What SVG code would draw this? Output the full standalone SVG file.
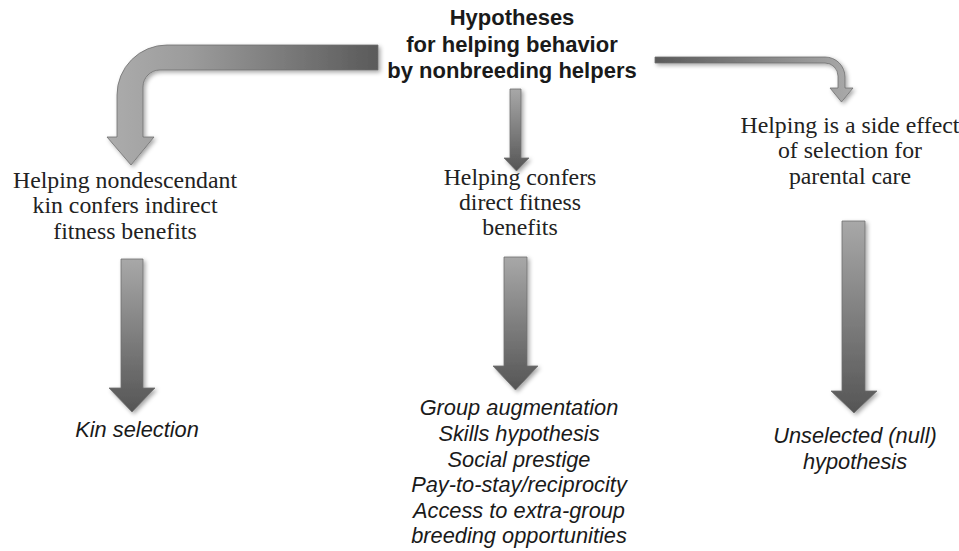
<svg xmlns="http://www.w3.org/2000/svg" width="959" height="551" viewBox="0 0 959 551">
<style>
.title{font-family:"Liberation Sans",Arial,sans-serif;font-weight:bold;font-size:22px;fill:#1a1a1a;text-anchor:middle}
.hyp{font-family:"Liberation Serif","Times New Roman",serif;font-size:23.8px;fill:#222;text-anchor:middle}
.res{font-family:"Liberation Sans",Arial,sans-serif;font-style:italic;font-size:21.8px;fill:#1a1a1a;text-anchor:middle}
.arrow{stroke:#6e6e6e;stroke-width:0.8;filter:url(#sh)}
</style>
<defs>
<filter id="sh" x="-30%" y="-30%" width="160%" height="160%">
<feDropShadow dx="2" dy="2" stdDeviation="2" flood-color="#000" flood-opacity="0.35"/>
</filter>
<linearGradient id="gv" x1="0" y1="0" x2="0" y2="1">
<stop offset="0" stop-color="#a8a8a8"/>
<stop offset="1" stop-color="#555"/>
</linearGradient>
<linearGradient id="gl" gradientUnits="userSpaceOnUse" x1="107" y1="0" x2="378" y2="0">
<stop offset="0" stop-color="#acacac"/>
<stop offset="0.3" stop-color="#9c9c9c"/>
<stop offset="1" stop-color="#5a5a5a"/>
</linearGradient>
<linearGradient id="gr" gradientUnits="userSpaceOnUse" x1="655" y1="0" x2="853" y2="0">
<stop offset="0" stop-color="#5a5a5a"/>
<stop offset="1" stop-color="#aaaaaa"/>
</linearGradient>
</defs>
<rect width="959" height="551" fill="#fff"/>
<g id="connectors">
<path class="arrow" fill="url(#gl)" d="M378,45 L167,45 A50,50 0 0 0 117,95 L117,137 L107,137 L131,165 L154,137 L143,137 L143,87 A17,17 0 0 1 160,70 L378,70 Z"/>
<path class="arrow" fill="url(#gv)" d="M510,89 L521,89 L521,158 L529,158 L516.5,171 L504,158 L510,158 Z"/>
<path class="arrow" fill="url(#gr)" d="M655,57 L825,57 A20,20 0 0 1 845,77 L845,88 L853,88 L841.5,102 L830,88 L838,88 L838,76 A13,13 0 0 0 825,63 L655,63 Z"/>
<path class="arrow" fill="url(#gv)" d="M121,259 L143,259 L143,388 L155,388 L132,412 L109,388 L121,388 Z"/>
<path class="arrow" fill="url(#gv)" d="M504,257 L527,257 L527,366 L538,366 L515.5,390 L493,366 L504,366 Z"/>
<path class="arrow" fill="url(#gv)" d="M842,221 L865,221 L865,391 L877,391 L854,413 L831,391 L842,391 Z"/>
</g>
<g id="root">
<text class="title" x="512" y="25">Hypotheses</text>
<text class="title" x="512" y="52">for helping behavior</text>
<text class="title" x="512" y="78">by nonbreeding helpers</text>
</g>
<g id="indirect">
<text class="hyp" x="125" y="188">Helping nondescendant</text>
<text class="hyp" x="125" y="213">kin confers indirect</text>
<text class="hyp" x="125" y="239">fitness benefits</text>
</g>
<g id="direct">
<text class="hyp" x="520" y="185">Helping confers</text>
<text class="hyp" x="520" y="210">direct fitness</text>
<text class="hyp" x="520" y="235">benefits</text>
</g>
<g id="sideeffect">
<text class="hyp" x="850" y="133">Helping is a side effect</text>
<text class="hyp" x="850" y="158">of selection for</text>
<text class="hyp" x="850" y="184">parental care</text>
</g>
<g id="kinselection">
<text class="res" x="137" y="437">Kin selection</text>
</g>
<g id="directmechanisms">
<text class="res" x="519" y="415">Group augmentation</text>
<text class="res" x="519" y="441">Skills hypothesis</text>
<text class="res" x="519" y="467">Social prestige</text>
<text class="res" x="519" y="492">Pay-to-stay/reciprocity</text>
<text class="res" x="519" y="518">Access to extra-group</text>
<text class="res" x="519" y="543">breeding opportunities</text>
</g>
<g id="null">
<text class="res" x="855" y="443">Unselected (null)</text>
<text class="res" x="855" y="469">hypothesis</text>
</g>
</svg>
